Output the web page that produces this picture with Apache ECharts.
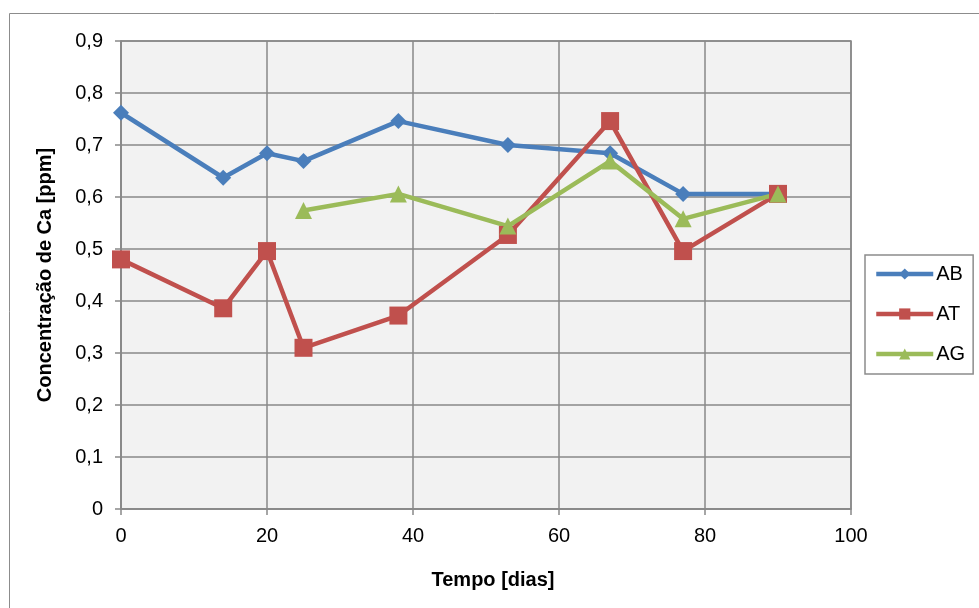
<!DOCTYPE html>
<html><head><meta charset="utf-8">
<script src="https://cdn.jsdelivr.net/npm/echarts@6/dist/echarts.min.js"></script>
<style>html,body{margin:0;padding:0;background:#fff}#c{width:979px;height:608px}</style>
</head><body><div id="c"></div>
<script>
const xTicks = [0, 20, 40, 60, 80, 100];
const yTicks = [0, 0.1, 0.2, 0.3, 0.4, 0.5, 0.6, 0.7, 0.8, 0.9];
const abDays = [0, 14, 20, 25, 38, 53, 67, 77, 90];
const abVals = [0.762, 0.637, 0.684, 0.669, 0.746, 0.700, 0.684, 0.606, 0.606];
const atDays = [0, 14, 20, 25, 38, 53, 67, 77, 90];
const atVals = [0.480, 0.386, 0.496, 0.310, 0.372, 0.527, 0.746, 0.496, 0.606];
const agDays = [25, 38, 53, 67, 77, 90];
const agVals = [0.574, 0.606, 0.544, 0.669, 0.558, 0.606];

const pair = (xs, ys) => xs.map((x, i) => [x, ys[i]]);
const font = 'Liberation Sans, Arial, sans-serif';
const chart = echarts.init(document.getElementById('c'));
chart.setOption({
  animation: false,
  backgroundColor: '#fff',
  graphic: [{type: 'rect', shape: {x: 9.5, y: 13.5, width: 990, height: 620}, style: {fill: 'none', stroke: '#8c8c8c', lineWidth: 1}, silent: true, z: -1}],
  grid: {left: 121, right: 128, top: 41, bottom: 99, show: true, backgroundColor: '#f2f2f2', borderColor: '#898989', borderWidth: 1.5},
  legend: {
    orient: 'vertical', left: 865, top: 255, padding: [9, 8, 10, 9],
    borderColor: '#8c8c8c', borderWidth: 1.5,
    itemWidth: 57, itemHeight: 14, itemGap: 20,
    lineStyle: {width: 4.5},
    textStyle: {fontFamily: font, fontSize: 20, color: '#000', padding: [0, 0, 0, -2]},
    data: ['AB', 'AT', 'AG']
  },
  xAxis: {
    type: 'value', min: xTicks[0], max: xTicks[xTicks.length - 1], interval: 20,
    name: 'Tempo [dias]', nameLocation: 'middle', nameGap: 61,
    nameTextStyle: {fontFamily: font, fontSize: 20, fontWeight: 'bold', color: '#000', padding: [0, 0, 0, 14]},
    axisLine: {lineStyle: {color: '#898989', width: 1.5}},
    axisTick: {show: true, length: 6, lineStyle: {color: '#898989', width: 1.5}},
    axisLabel: {fontFamily: font, fontSize: 20, color: '#000', margin: 17},
    splitLine: {show: true, lineStyle: {color: '#898989', width: 1.5}}
  },
  yAxis: {
    type: 'value', min: yTicks[0], max: yTicks[yTicks.length - 1], interval: 0.1,
    name: 'Concentração de Ca [ppm]', nameLocation: 'middle', nameGap: 66, nameRotate: 90,
    nameTextStyle: {fontFamily: font, fontSize: 20, fontWeight: 'bold', color: '#000'},
    axisLine: {show: true, lineStyle: {color: '#898989', width: 1.5}},
    axisTick: {show: true, length: 6, lineStyle: {color: '#898989', width: 1.5}},
    axisLabel: {fontFamily: font, fontSize: 20, color: '#000', margin: 18,
      formatter: v => v === 0 ? '0' : v.toFixed(1).replace('.', ',')},
    splitLine: {show: true, lineStyle: {color: '#898989', width: 1.5}}
  },
  series: [
    {name: 'AB', type: 'line', data: pair(abDays, abVals), symbol: 'diamond', symbolSize: 16,
     lineStyle: {color: '#4a7ebb', width: 4.5}, itemStyle: {color: '#4a7ebb'}},
    {name: 'AT', type: 'line', data: pair(atDays, atVals), symbol: 'rect', symbolSize: 18,
     lineStyle: {color: '#c0504d', width: 4.5}, itemStyle: {color: '#c0504d'}},
    {name: 'AG', type: 'line', data: pair(agDays, agVals), symbol: 'triangle', symbolSize: 17,
     lineStyle: {color: '#9bbb59', width: 4.5}, itemStyle: {color: '#9bbb59'}}
  ]
});
</script></body></html>
